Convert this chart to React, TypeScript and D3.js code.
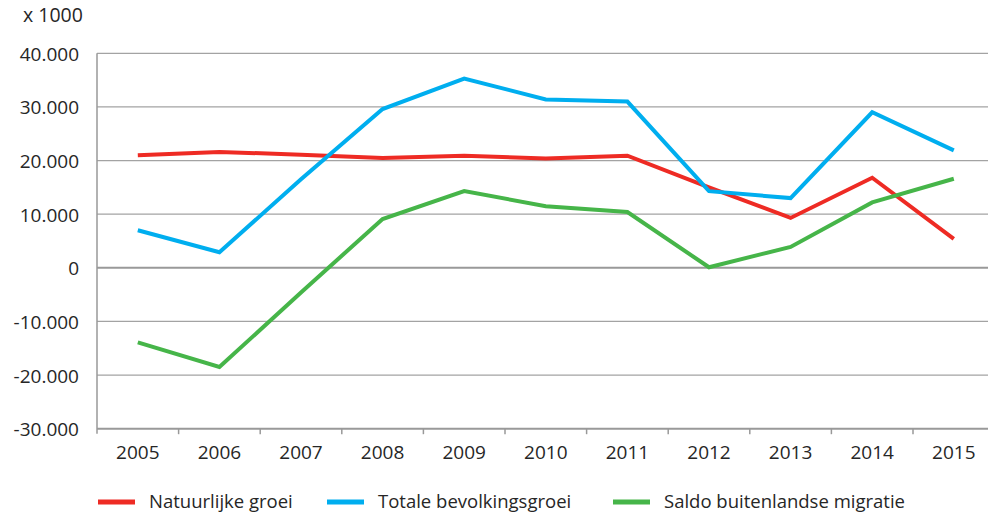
import { useEffect, useRef } from 'react';
import * as d3 from 'd3';

// Jaren en reeksen
const years = ['2005', '2006', '2007', '2008', '2009', '2010', '2011', '2012', '2013', '2014', '2015'];
const natuurlijkeGroei = [21000, 21600, 21100, 20500, 20900, 20400, 20900, 15000, 9300, 16800, 5400];
const totaleGroei = [7000, 2900, 16500, 29600, 35300, 31400, 31000, 14300, 13000, 29000, 21900];
const saldoMigratie = [-13900, -18500, -4600, 9100, 14300, 11500, 10400, 100, 3900, 12200, 16600];
const yTicks = [-30000, -20000, -10000, 0, 10000, 20000, 30000, 40000];

const seriesNames = ['Natuurlijke groei', 'Totale bevolkingsgroei', 'Saldo buitenlandse migratie'];
const seriesColors = ['#EE2B24', '#00AEEF', '#46B549'];
const seriesValues = [natuurlijkeGroei, totaleGroei, saldoMigratie];

const FONT = '"Open Sans", sans-serif';
const TEXT = '#262626';

export default function App() {
  const ref = useRef<SVGSVGElement>(null);

  useEffect(() => {
    if (!ref.current) return;
    const svg = d3.select(ref.current);
    svg.selectAll('*').remove();

    const left = 97;
    const top = 53.3;
    const bottom = 428.7;
    const band = 81.6;

    const x = d3.scaleBand<string>()
      .domain(years)
      .range([left, left + band * years.length]);

    const y = d3.scaleLinear()
      .domain([-30000, 40000])
      .range([bottom, top]);

    const nl = d3.formatLocale({
      decimal: ',',
      thousands: '.',
      grouping: [3],
      currency: ['€', ''],
      minus: '-',
    });
    const fmt = nl.format(',d');

    // Horizontale rasterlijnen
    svg.append('g')
      .selectAll('line')
      .data(yTicks.filter(t => t !== 0 && t !== -30000))
      .enter()
      .append('line')
      .attr('x1', left)
      .attr('x2', 988)
      .attr('y1', d => y(d))
      .attr('y2', d => y(d))
      .attr('stroke', '#a3a3a3')
      .attr('stroke-width', 1.3);

    // Nullijn
    svg.append('line')
      .attr('x1', left).attr('x2', 988)
      .attr('y1', y(0)).attr('y2', y(0))
      .attr('stroke', '#999999')
      .attr('stroke-width', 2);

    // Y-as labels
    svg.append('g')
      .selectAll('text')
      .data(yTicks)
      .enter()
      .append('text')
      .attr('x', 79)
      .attr('y', d => y(d) + 7.5)
      .attr('text-anchor', 'end')
      .style('font-family', FONT)
      .style('font-size', '19px')
      .style('fill', TEXT)
      .text(d => fmt(d));

    svg.append('text')
      .attr('x', 23)
      .attr('y', 22)
      .style('font-family', FONT)
      .style('font-size', '19.5px')
      .style('fill', TEXT)
      .text('x 1000');

    // Linker as
    svg.append('line')
      .attr('x1', left).attr('x2', left)
      .attr('y1', top).attr('y2', bottom + 5)
      .attr('stroke', '#999999')
      .attr('stroke-width', 1.5);

    // Onderste as met tickmarks tussen de categorieën
    svg.append('line')
      .attr('x1', left).attr('x2', 988)
      .attr('y1', bottom).attr('y2', bottom)
      .attr('stroke', '#999999')
      .attr('stroke-width', 2);

    svg.append('g')
      .selectAll('line')
      .data(years)
      .enter()
      .append('line')
      .attr('x1', d => (x(d) as number) + x.bandwidth())
      .attr('x2', d => (x(d) as number) + x.bandwidth())
      .attr('y1', bottom)
      .attr('y2', bottom + 5.5)
      .attr('stroke', '#999999')
      .attr('stroke-width', 1.5);

    svg.append('g')
      .selectAll('text')
      .data(years)
      .enter()
      .append('text')
      .attr('x', d => (x(d) as number) + x.bandwidth() / 2)
      .attr('y', 459)
      .attr('text-anchor', 'middle')
      .style('font-family', FONT)
      .style('font-size', '19px')
      .style('fill', TEXT)
      .text(d => d);

    // Lijnen
    const line = d3.line<number>()
      .x((_, i) => (x(years[i]) as number) + x.bandwidth() / 2)
      .y(d => y(d));

    seriesValues.forEach((vals, i) => {
      svg.append('path')
        .datum(vals)
        .attr('fill', 'none')
        .attr('stroke', seriesColors[i])
        .attr('stroke-width', 4)
        .attr('stroke-linejoin', 'miter')
        .attr('d', line);
    });

    // Legenda
    const legendX = [98, 327, 613];
    const legend = svg.append('g');
    seriesNames.forEach((name, i) => {
      legend.append('line')
        .attr('x1', legendX[i]).attr('x2', legendX[i] + 37)
        .attr('y1', 502).attr('y2', 502)
        .attr('stroke', seriesColors[i])
        .attr('stroke-width', 5);
      legend.append('text')
        .attr('x', legendX[i] + 51)
        .attr('y', 507.5)
        .style('font-family', FONT)
        .style('font-size', '18.5px')
        .style('fill', TEXT)
        .text(name);
    });
  }, []);

  return (
    <svg
      ref={ref}
      width={988}
      height={515}
      style={{ position: 'absolute', left: 0, top: 0, background: '#fff' }}
    />
  );
}
